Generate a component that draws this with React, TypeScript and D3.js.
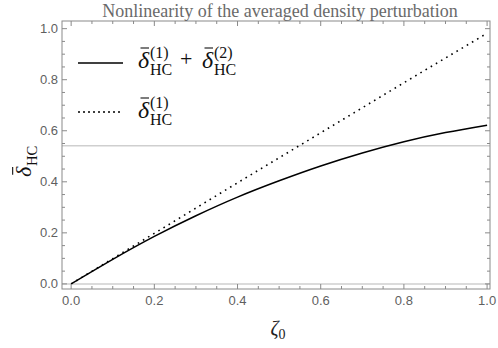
import { useEffect, useRef } from "react";
import * as d3 from "d3";

// values
const zeta = [0, 0.1, 0.2, 0.3, 0.4, 0.5, 0.6, 0.7, 0.8, 0.9, 1.0];
const secondOrder = [0, 0.096, 0.186, 0.267, 0.34, 0.404, 0.462, 0.513, 0.557, 0.593, 0.622];
const firstOrder = [0, 0.099, 0.198, 0.297, 0.396, 0.494, 0.592, 0.69, 0.788, 0.885, 0.982];
const refLevels = [0, 0.541];
const xTicks = [0, 0.2, 0.4, 0.6, 0.8, 1.0];
const yTicks = [0, 0.2, 0.4, 0.6, 0.8, 1.0];

const W = 498, H = 348;

const App = () => {
  const ref = useRef<SVGSVGElement>(null);

  useEffect(() => {
    const svg = d3.select(ref.current);
    svg.selectAll("*").remove();

    const left = 62, right = 490, top = 21, bottom = 289;
    const x = d3.scaleLinear().domain([-0.022, 1.007]).range([left, right]);
    const y = d3.scaleLinear().domain([-0.02, 1.03]).range([bottom, top]);

    const frameCol = "#8a8a8a";
    const g = svg.append("g");

    // reference lines
    refLevels.forEach(v => {
      g.append("line")
        .attr("x1", left).attr("x2", right)
        .attr("y1", y(v)).attr("y2", y(v))
        .attr("stroke", "#cfcfcf").attr("stroke-width", 1.5);
    });

    // curves
    const line = d3.line<number>()
      .x((_, i) => x(zeta[i]))
      .y(d => y(d))
      .curve(d3.curveNatural);

    g.append("path")
      .attr("d", line(firstOrder))
      .attr("fill", "none")
      .attr("stroke", "#000")
      .attr("stroke-width", 1.6)
      .attr("stroke-dasharray", "1.6,4.4");

    g.append("path")
      .attr("d", line(secondOrder))
      .attr("fill", "none")
      .attr("stroke", "#000")
      .attr("stroke-width", 1.5);

    // frame
    g.append("rect")
      .attr("x", left).attr("y", top)
      .attr("width", right - left).attr("height", bottom - top)
      .attr("fill", "none").attr("stroke", frameCol).attr("stroke-width", 1);

    // ticks on all sides, pointing inward
    const minor = d3.range(0, 1.0001, 0.05);
    minor.forEach(v => {
      const isMajor = Math.abs(Math.round(v * 5) - v * 5) < 1e-6;
      const len = isMajor ? 5 : 3;
      const xv = x(v), yv = y(v);
      g.append("line").attr("x1", xv).attr("x2", xv).attr("y1", bottom).attr("y2", bottom - len)
        .attr("stroke", frameCol);
      g.append("line").attr("x1", xv).attr("x2", xv).attr("y1", top).attr("y2", top + len)
        .attr("stroke", frameCol);
      g.append("line").attr("x1", left).attr("x2", left + len).attr("y1", yv).attr("y2", yv)
        .attr("stroke", frameCol);
      g.append("line").attr("x1", right).attr("x2", right - len).attr("y1", yv).attr("y2", yv)
        .attr("stroke", frameCol);
    });

    const labelFont = "'Liberation Sans', Arial, sans-serif";
    xTicks.forEach(v => {
      g.append("text")
        .attr("x", x(v)).attr("y", bottom + 16)
        .attr("text-anchor", "middle")
        .attr("font-family", labelFont).attr("font-size", 13)
        .attr("fill", "#5f5f5f")
        .text(v.toFixed(1));
    });
    yTicks.forEach(v => {
      g.append("text")
        .attr("x", left - 4).attr("y", y(v) + 4.5)
        .attr("text-anchor", "end")
        .attr("font-family", labelFont).attr("font-size", 13)
        .attr("fill", "#5f5f5f")
        .text(v.toFixed(1));
    });

    const serif = "'Liberation Serif', 'Times New Roman', serif";

    // title
    svg.append("text")
      .attr("x", 280).attr("y", 16.5)
      .attr("text-anchor", "middle")
      .attr("font-family", serif).attr("font-size", 18)
      .attr("fill", "#6a6a6a")
      .text("Nonlinearity of the averaged density perturbation");

    // x label
    svg.append("text")
      .attr("x", 278).attr("y", 335)
      .attr("text-anchor", "middle")
      .attr("font-family", serif).attr("font-size", 20)
      .attr("fill", "#222")
      .call(t => {
        t.append("tspan").attr("font-style", "italic").text("ζ");
        t.append("tspan").attr("font-size", 14).attr("dy", 4).text("0");
      });

    // delta-bar with stacked super/subscripts
    const deltaSym = (parent: d3.Selection<SVGGElement, unknown, null, undefined>, px: number, py: number, sup: string | null, size = 24) => {
      const k = size / 24;
      parent.append("text")
        .attr("x", px).attr("y", py)
        .attr("font-family", serif).attr("font-size", size).attr("font-style", "italic")
        .attr("fill", "#111")
        .text("δ");
      parent.append("line")
        .attr("x1", px + 2.5 * k).attr("x2", px + 11 * k)
        .attr("y1", py - 20 * k).attr("y2", py - 20 * k)
        .attr("stroke", "#111").attr("stroke-width", 1.1);
      if (sup) {
        parent.append("text")
          .attr("x", px + 12 * k).attr("y", py - 10 * k)
          .attr("font-family", serif).attr("font-size", 16 * k)
          .attr("fill", "#111")
          .text(sup);
      }
      parent.append("text")
        .attr("x", px + 12 * k).attr("y", py + 7 * k)
        .attr("font-family", serif).attr("font-size", 16 * k)
        .attr("fill", "#111")
        .text("HC");
    };

    // legend
    const leg = svg.append("g");
    leg.append("line").attr("x1", 78).attr("x2", 123).attr("y1", 63).attr("y2", 63)
      .attr("stroke", "#000").attr("stroke-width", 1.5);
    deltaSym(leg, 138, 68, "(1)");
    leg.append("text")
      .attr("x", 180).attr("y", 66)
      .attr("font-family", serif).attr("font-size", 22)
      .attr("fill", "#111")
      .text("+");
    deltaSym(leg, 202, 68, "(2)");

    leg.append("line").attr("x1", 78).attr("x2", 123).attr("y1", 112).attr("y2", 112)
      .attr("stroke", "#000").attr("stroke-width", 1.5).attr("stroke-dasharray", "2,3");
    deltaSym(leg, 138, 118, "(1)");

    // y label, rotated
    const yl = svg.append("g").attr("transform", "translate(31,177) rotate(-90)");
    deltaSym(yl, 0, 0, null, 22);
  }, []);

  return <svg ref={ref} width={W} height={H} style={{ display: "block", position: "absolute", left: 0, top: 0 }} />;
};

export default App;
